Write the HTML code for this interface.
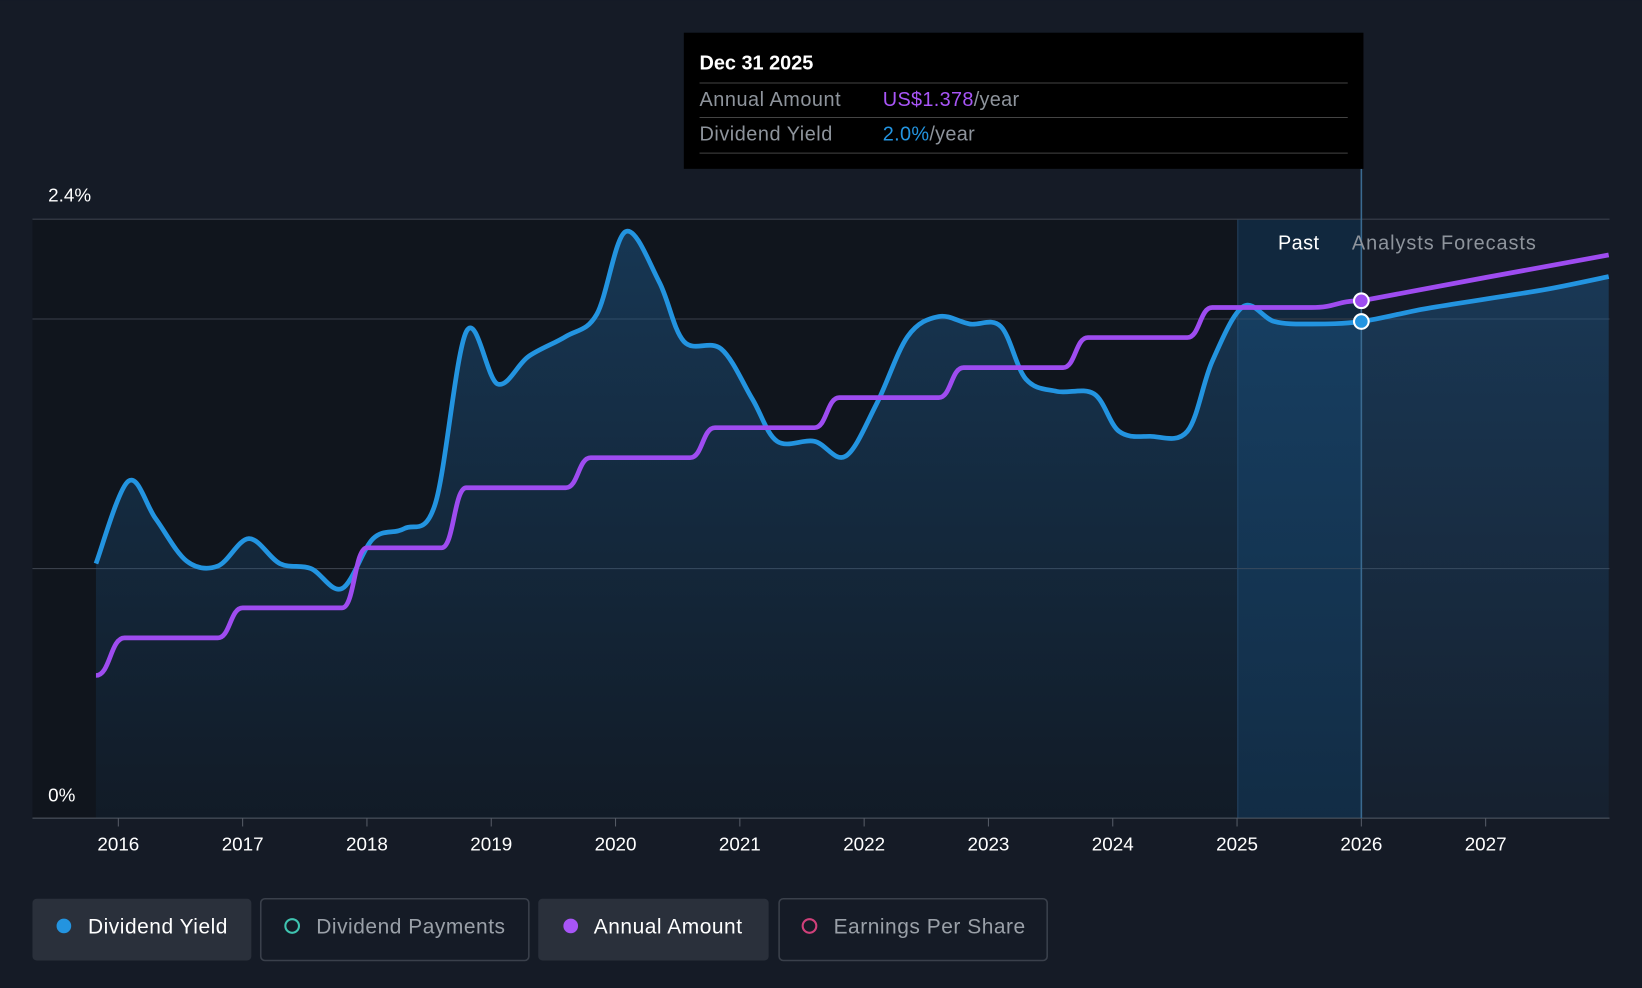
<!DOCTYPE html>
<html><head><meta charset="utf-8"><style>
html,body{margin:0;padding:0;background:#151b26;}
svg{display:block;font-family:"Liberation Sans",sans-serif;}
</style></head><body>
<svg id="chart" width="1642" height="988" viewBox="0 0 1568 943">
<defs>
<linearGradient id="ag" x1="0" y1="0" x2="0" y2="1">
<stop offset="0" stop-color="#1f5f95" stop-opacity="0.45"/>
<stop offset="1" stop-color="#1f5f95" stop-opacity="0.08"/>
</linearGradient>
</defs>
<rect x="0" y="0" width="1568" height="943" fill="#151b26"/>
<rect x="31" y="209" width="1269" height="572" fill="#10151d"/>
<rect x="1182" y="209" width="118" height="572" fill="#13314d" opacity="0.7"/>
<line x1="1182" y1="209" x2="1182" y2="781" stroke="#24415e" stroke-width="1"/>
<g id="grid"></g>
<path id="area" fill="url(#ag)"/>
<path id="yieldLine" fill="none" stroke="#2394e0" stroke-width="4.5"/>
<path id="amountLine" fill="none" stroke="#9e4cf0" stroke-width="4.5"/>
<line x1="1300" y1="161" x2="1300" y2="781" stroke="#3a6a90" stroke-width="1.5"/>
<g id="xt"></g>
<text x="46" y="192" fill="#fff" font-size="18">2.4%</text>
<text x="46" y="765" fill="#fff" font-size="18">0%</text>
<text x="1260" y="238" fill="#fff" font-size="19" text-anchor="end" letter-spacing="0.4">Past</text>
<text x="1291" y="238" fill="#8e949c" font-size="19" letter-spacing="0.9">Analysts Forecasts</text>
<circle id="dotA" r="7" fill="#9e4cf0" stroke="#fff" stroke-width="2"/>
<circle id="dotY" r="7" fill="#2394e0" stroke="#fff" stroke-width="2"/>
<g>
<rect x="653" y="31" width="649" height="130" fill="#000"/>
<text x="668" y="66" fill="#fff" font-size="19" font-weight="bold">Dec 31 2025</text>
<line x1="668" y1="79" x2="1287" y2="79" stroke="#444"/>
<text x="668" y="101" fill="#8e949c" font-size="19" letter-spacing="0.5">Annual Amount</text>
<text x="843" y="101" font-size="19" letter-spacing="0.3"><tspan fill="#a855f7">US$1.378</tspan><tspan fill="#8e949c">/year</tspan></text>
<line x1="668" y1="112" x2="1287" y2="112" stroke="#444"/>
<text x="668" y="134" fill="#8e949c" font-size="19" letter-spacing="0.5">Dividend Yield</text>
<text x="843" y="134" font-size="19" letter-spacing="0.3"><tspan fill="#2394e0">2.0%</tspan><tspan fill="#8e949c">/year</tspan></text>
<line x1="668" y1="146" x2="1287" y2="146" stroke="#444"/>
</g>
<g>
<rect x="31" y="858" width="209" height="59" rx="4" fill="#2a303b"/>
<circle cx="61" cy="884" r="7" fill="#2394e0"/>
<text x="84" y="891" fill="#fff" font-size="20" letter-spacing="0.5">Dividend Yield</text></g>
<g>
<rect x="249" y="858" width="256" height="59" rx="4" fill="none" stroke="#3a404b" stroke-width="1.5"/>
<circle cx="279" cy="884" r="6.5" fill="none" stroke="#3fc4b0" stroke-width="2"/>
<text x="302" y="891" fill="#9aa0a8" font-size="20" letter-spacing="0.5">Dividend Payments</text></g>
<g>
<rect x="514" y="858" width="220" height="59" rx="4" fill="#2a303b"/>
<circle cx="545" cy="884" r="7" fill="#a855f7"/>
<text x="567" y="891" fill="#fff" font-size="20" letter-spacing="0.5">Annual Amount</text></g>
<g>
<rect x="744" y="858" width="256" height="59" rx="4" fill="none" stroke="#3a404b" stroke-width="1.5"/>
<circle cx="773" cy="884" r="6.5" fill="none" stroke="#d0407a" stroke-width="2"/>
<text x="796" y="891" fill="#9aa0a8" font-size="20" letter-spacing="0.5">Earnings Per Share</text></g>
</svg>
<script>
const yieldYears=[2015.82,2016.08,2016.3,2016.55,2016.8,2017.05,2017.3,2017.55,2017.8,2018.05,2018.3,2018.55,2018.8,2019.05,2019.3,2019.6,2019.85,2020.08,2020.35,2020.55,2020.85,2021.1,2021.3,2021.6,2021.85,2022.1,2022.35,2022.6,2022.85,2023.1,2023.3,2023.55,2023.85,2024.05,2024.3,2024.6,2024.8,2025.05,2025.3,2025.6,2026.0,2026.5,2027.0,2027.5,2027.99];
const yieldValues=[1.02,1.35,1.20,1.03,1.01,1.12,1.02,1.0,0.92,1.12,1.16,1.26,1.95,1.74,1.85,1.93,2.02,2.35,2.15,1.91,1.88,1.68,1.51,1.51,1.45,1.66,1.93,2.01,1.98,1.97,1.76,1.71,1.70,1.55,1.53,1.55,1.83,2.05,1.99,1.98,1.99,2.04,2.08,2.12,2.17];
const amountYears=[2015.82,2016.05,2016.8,2017.0,2017.8,2018.0,2018.6,2018.8,2019.6,2019.8,2020.6,2020.8,2021.6,2021.8,2022.6,2022.8,2023.6,2023.8,2024.6,2024.8,2025.6,2026.0,2027.0,2027.99];
const amountValues=[0.38,0.48,0.48,0.56,0.56,0.72,0.72,0.88,0.88,0.96,0.96,1.04,1.04,1.12,1.12,1.20,1.20,1.28,1.28,1.36,1.36,1.378,1.44,1.50];
const tickYears=[2016,2017,2018,2019,2020,2021,2022,2023,2024,2025,2026,2027];
const gridValues=[1.0,2.0,2.4];
const X=y=>113+(y-2016)*118.7;
const Y=v=>781-v*238.3;
const YA=v=>781-v*358.5;
const NS='http://www.w3.org/2000/svg';
const g=document.getElementById('grid');
gridValues.forEach(v=>{const l=document.createElementNS(NS,'line');


l.setAttribute('x1',31);l.setAttribute('x2',1537);l.setAttribute('y1',Y(v));l.setAttribute('y2',Y(v));
l.setAttribute('stroke','#3a404b');l.setAttribute('stroke-width',1);g.appendChild(l);});
const ax=document.createElementNS(NS,'line');


ax.setAttribute('x1',31);ax.setAttribute('x2',1537);ax.setAttribute('y1',781);ax.setAttribute('y2',781);ax.setAttribute('stroke','#555b66');g.appendChild(ax);
const xt=document.getElementById('xt');
tickYears.forEach(t=>{const l=document.createElementNS(NS,'line');


l.setAttribute('x1',X(t));l.setAttribute('x2',X(t));l.setAttribute('y1',781);l.setAttribute('y2',789);l.setAttribute('stroke','#555b66');xt.appendChild(l);
const tx=document.createElementNS(NS,'text');


tx.setAttribute('x',X(t));tx.setAttribute('y',812);tx.setAttribute('text-anchor','middle');tx.setAttribute('fill','#fff');tx.setAttribute('font-size','18');tx.textContent=t;xt.appendChild(tx);});
function catmull(p){let d=`M${p[0][0]},${p[0][1]}`;for(let i=0;i<p.length-1;i++){const p0=p[Math.max(0,i-1)],p1=p[i],p2=p[i+1],p3=p[Math.min(p.length-1,i+2)];
const c1=[p1[0]+(p2[0]-p0[0])/6,p1[1]+(p2[1]-p0[1])/6],c2=[p2[0]-(p3[0]-p1[0])/6,p2[1]-(p3[1]-p1[1])/6];
d+=`C${c1[0]},${c1[1]} ${c2[0]},${c2[1]} ${p2[0]},${p2[1]}`;}return d;}
function horiz(p,ys){let d=`M${p[0][0]},${p[0][1]}`;for(let i=0;i<p.length-1;i++){const a=p[i],b=p[i+1],m=(a[0]+b[0])/2;
if(ys[i]>=2025.99){d+=`L${b[0]},${b[1]}`;}else{d+=`C${m},${a[1]} ${m},${b[1]} ${b[0]},${b[1]}`;}}return d;}
const yp=yieldYears.map((y,i)=>[X(y),Y(yieldValues[i])]);
const yd=catmull(yp);
document.getElementById('yieldLine').setAttribute('d',yd);
document.getElementById('area').setAttribute('d',yd+`L${yp[yp.length-1][0]},781L${yp[0][0]},781Z`);
const ap=amountYears.map((y,i)=>[X(y),YA(amountValues[i])]);
document.getElementById('amountLine').setAttribute('d',horiz(ap,amountYears));
const iy=yieldYears.indexOf(2026.0),ia=amountYears.indexOf(2026.0);
const dy=document.getElementById('dotY');dy.setAttribute('cx',X(2026));dy.setAttribute('cy',Y(yieldValues[iy]));
const da=document.getElementById('dotA');da.setAttribute('cx',X(2026));da.setAttribute('cy',YA(amountValues[ia]));
</script>
</body></html>
